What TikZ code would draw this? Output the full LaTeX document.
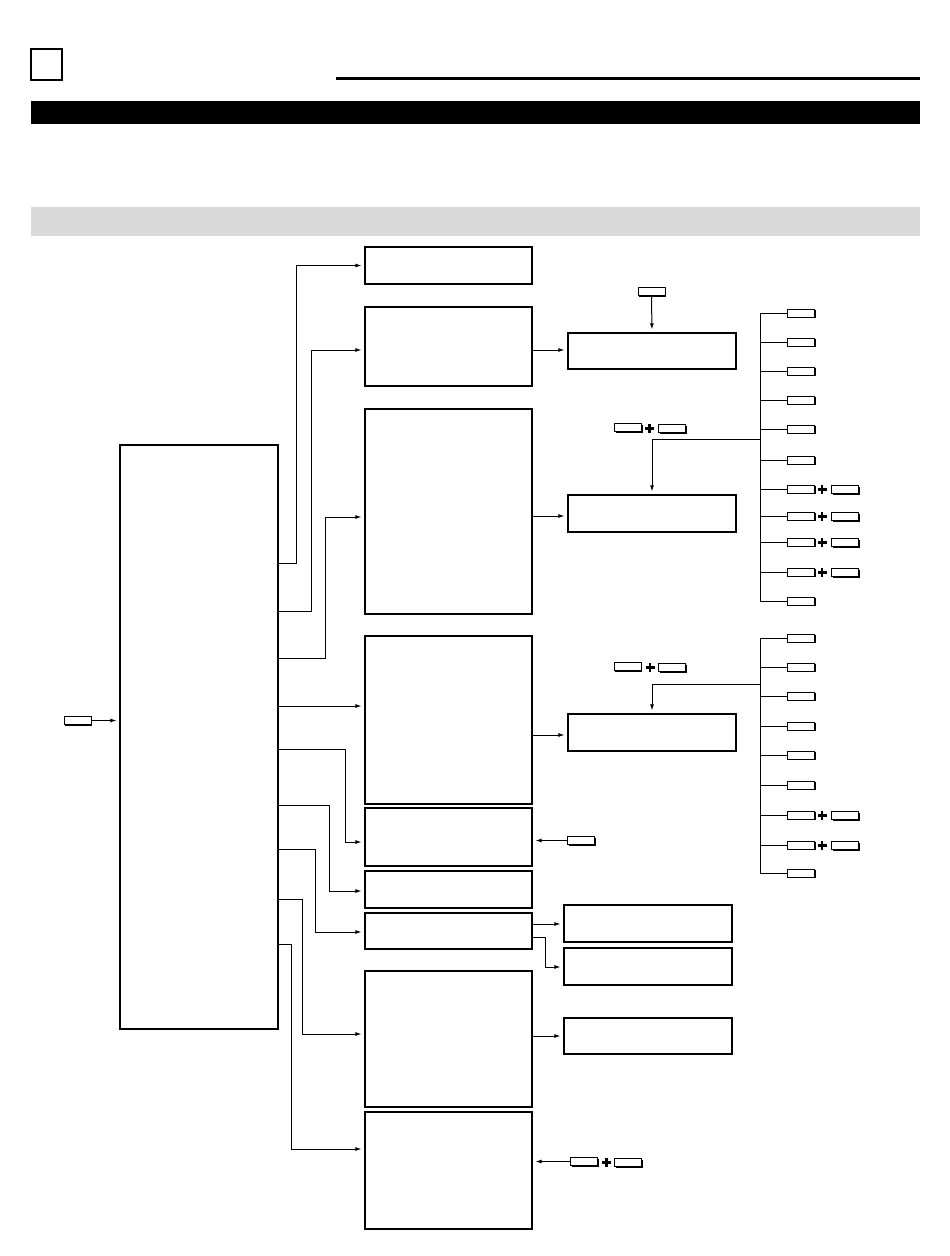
\documentclass[tikz,border=0pt]{standalone}
\usetikzlibrary{arrows.meta,fit,shadows}
\definecolor{bandgray}{HTML}{D9D9D9}
\begin{document}
\begin{tikzpicture}[x=1pt,y=-1pt,
  box/.style={draw,line width=1.1pt,inner sep=0pt},
  arr/.style={line width=1pt,-{Latex[length=6pt,width=4pt]},shorten >=3pt},
  ln/.style={line width=1pt},
  key/.style={draw,fill=white,line width=0.9pt,minimum width=27pt,minimum height=8pt,inner sep=0pt,
     drop shadow={shadow xshift=1.3pt,shadow yshift=-1.3pt,fill=black,opacity=1}},
  plusmark/.pic={\draw[line width=2.3pt] (-4.5,0)--(4.5,0) (0,-4.5)--(0,4.5);}
]
\path[fill=white] (0,0) rectangle (950,1256);
\useasboundingbox (0,0) rectangle (950,1256);

% header
\node[box,line width=1.2pt,fit={(31,49)(62,80)}] (hdr) {};
\draw[line width=3pt] (336,78) -- (920,78);
\fill[black] (31,101) rectangle (920,124);
\fill[bandgray] (31,207) rectangle (920,236);

% main boxes
\node[box,fit={(120,445)(278,1029)}] (big) {};
\node[box,fit={(365,247)(532,284)}] (A) {};
\node[box,fit={(365,307)(532,386)}] (B) {};
\node[box,fit={(365,409)(532,614)}] (C) {};
\node[box,fit={(365,636)(532,804)}] (D) {};
\node[box,fit={(365,808)(532,866)}] (E) {};
\node[box,fit={(365,871)(532,908)}] (F) {};
\node[box,fit={(365,913)(532,949)}] (G) {};
\node[box,fit={(365,971)(532,1107)}] (H) {};
\node[box,fit={(365,1112)(532,1229)}] (I) {};

% right boxes
\node[box,fit={(568,333)(736,369)}] (R1) {};
\node[box,fit={(568,495)(736,532)}] (R2) {};
\node[box,fit={(568,714)(736,751)}] (R3) {};
\node[box,fit={(564,905)(732,942)}] (R4) {};
\node[box,fit={(564,948)(732,985)}] (R5) {};
\node[box,fit={(564,1018)(732,1054)}] (R6) {};

% connectors from big box
\draw[arr] (big.east |- 0,563) -- ++(18,0) |- (A.west);
\draw[arr] (big.east |- 0,611) -- ++(33,0) |- (B.west |- 0,350);
\draw[arr] (big.east |- 0,658) -- ++(47,0) |- (C.west |- 0,517);
\draw[arr] (big.east |- 0,706) -- (D.west |- 0,706);
\draw[arr] (big.east |- 0,749) -- ++(67,0) |- (E.west |- 0,842);
\draw[arr] (big.east |- 0,805) -- ++(51,0) |- (F.west |- 0,891);
\draw[arr] (big.east |- 0,849) -- ++(37,0) |- (G.west |- 0,932);
\draw[arr] (big.east |- 0,899) -- ++(24,0) |- (H.west |- 0,1034);
\draw[arr] (big.east |- 0,944) -- ++(13,0) |- (I.west |- 0,1149);

% middle to right
\draw[arr] (B.east |- 0,350) -- (R1.west |- 0,350);
\draw[arr] (C.east |- 0,516) -- (R2.west |- 0,516);
\draw[arr] (D.east |- 0,735) -- (R3.west |- 0,735);
\draw[arr] (G.east |- 0,924) -- (R4.west |- 0,924);
\draw[arr] (G.east |- 0,937) -- ++(13,0) |- (R5.west |- 0,967);
\draw[arr] (H.east |- 0,1036) -- (R6.west |- 0,1036);

% left key
\node[key] (kl) at (77.5,720.5) {};
\draw[arr] (kl.east) -- (big.west |- kl.east);

% top key into R1
\node[key] (kt) at (651.5,291.5) {};
\draw[arr] (kt.south) -- (R1.north);

% key combos above R2 and R3
\node[key] (kc1) at (628,427.5) {};
\pic at (649.5,428.5) {plusmark};
\node[key] (kc2) at (672,428.5) {};
\node[key] (kd1) at (627.5,666.5) {};
\pic at (650,667.5) {plusmark};
\node[key] (kd2) at (672,667.5) {};

% key into E
\node[key] (ke) at (581,840.5) {};
\draw[arr] (ke.west) -- (E.east |- ke.west);

% keys into I
\node[key] (ki1) at (584,1161.5) {};
\pic at (606.5,1162.5) {plusmark};
\node[key] (ki2) at (628,1162.5) {};
\draw[arr] (ki1.west) -- (I.east |- ki1.west);

% right key column 1
\coordinate (bus) at (760,0);
\foreach \i/\y in {1/313,2/342,3/371,4/400,5/429,6/460,7/489,8/516,9/542,10/572,11/601}
  {\node[key] (ra\i) at (801,\y) {};}
\foreach \i/\y in {7/489,8/516,9/542,10/572}
  {\pic at (822,\y+0.5) {plusmark};
   \node[key] (ra\i b) at (845,\y+0.5) {};}
\draw[ln] (ra1.west) -- (bus |- ra1.west) -- (bus |- ra11.west) -- (ra11.west);
\foreach \i in {2,...,10} {\draw[ln] (ra\i.west) -- (bus |- ra\i.west);}
\draw[arr] (bus |- 0,439) -| (R2.north);

% right key column 2
\foreach \i/\y in {1/638,2/667,3/696,4/726,5/755,6/785,7/815,8/845,9/873}
  {\node[key] (rb\i) at (801,\y) {};}
\foreach \i/\y in {7/815,8/845}
  {\pic at (822,\y+0.5) {plusmark};
   \node[key] (rb\i b) at (845,\y+0.5) {};}
\draw[ln] (rb1.west) -- (bus |- rb1.west) -- (bus |- rb9.west) -- (rb9.west);
\foreach \i in {2,...,8} {\draw[ln] (rb\i.west) -- (bus |- rb\i.west);}
\draw[arr] (bus |- 0,684) -| (R3.north);
\end{tikzpicture}
\end{document}
